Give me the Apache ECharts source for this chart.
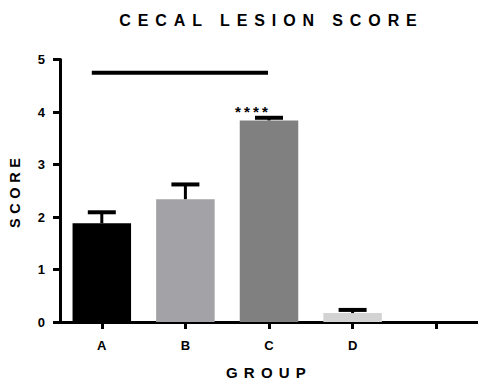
<!DOCTYPE html>
<html>
<head>
<meta charset="utf-8">
<script src="https://cdn.jsdelivr.net/npm/echarts@6/dist/echarts.min.js"></script>
<style>
html,body{margin:0;padding:0;background:#fff;}
#chart{width:478px;height:383px;}
#chart text[style*="16px"], #chart text[font-size="16px"], #chart text[font-size="16"]{letter-spacing:6.9px;}
#chart text[style*="15px"], #chart text[font-size="15px"], #chart text[font-size="15"]{letter-spacing:6.2px;}
#chart text[style*="14.5px"], #chart text[font-size="14.5px"], #chart text[font-size="14.5"]{letter-spacing:4.6px;}
#chart text[style*="15.2px"], #chart text[font-size="15.2px"], #chart text[font-size="15.2"]{letter-spacing:3.1px;}
</style>
</head>
<body>
<div id="chart"></div>
<script>
// ---- data ----
var categories = ['A', 'B', 'C', 'D', ''];
var means = [1.88, 2.34, 3.84, 0.17];
var errors = [0.21, 0.28, 0.05, 0.06];
var sigStars = ['', '', '****', ''];
var sigLineFrom = 'A';
var sigLineTo = 'C';
var sigLineY = 4.75;
var yMin = 0, yMax = 5, yInterval = 1;

// ---- styles ----
var barColors = ['#000000', '#a3a2a7', '#808080', '#d3d3d3'];
var FONT = "Liberation Sans, Arial, sans-serif";

var barData = means.map(function (v, i) {
  return { value: v, itemStyle: { color: barColors[i] } };
});
var errData = means.map(function (v, i) {
  return [i, v, v + errors[i]];
});

function renderErr(params, api) {
  var x = api.value(0);
  var lo = api.coord([x, api.value(1)]);
  var hi = api.coord([x, api.value(2)]);
  var stemW = 3, capW = 28, capH = 4;
  var children = [
    { type: 'rect', shape: { x: lo[0] - stemW / 2, y: hi[1], width: stemW, height: lo[1] - hi[1] }, style: { fill: '#000' } },
    { type: 'rect', shape: { x: hi[0] - capW / 2, y: hi[1] - capH / 2, width: capW, height: capH }, style: { fill: '#000' } }
  ];
  var stars = sigStars[params.dataIndex];
  if (stars) {
    children.push({
      type: 'text',
      style: {
        text: stars, x: hi[0] - 16, y: hi[1] + 1,
        align: 'center', verticalAlign: 'bottom',
        font: "bold 15.2px " + FONT, fill: '#000'
      }
    });
  }
  return { type: 'group', children: children };
}

function renderSig(params, api) {
  var a = api.coord([categories.indexOf(sigLineFrom), sigLineY]);
  var c = api.coord([categories.indexOf(sigLineTo), sigLineY]);
  return {
    type: 'rect',
    shape: { x: a[0] - 10, y: a[1] - 2, width: c[0] - a[0] + 9, height: 4 },
    style: { fill: '#000' }
  };
}

var chart = echarts.init(document.getElementById('chart'), null, { renderer: 'svg' });
chart.setOption({
  animation: false,
  backgroundColor: '#fff',
  title: {
    text: 'CECAL LESION SCORE',
    left: 271.5, top: 12, padding: 0,
    textAlign: 'center',
    textStyle: { fontFamily: FONT, fontWeight: 'bold', fontSize: 16, color: '#000' }
  },
  grid: { left: 60, right: 0, top: 59.5, bottom: 61, containLabel: false, outerBoundsMode: 'none' },
  xAxis: {
    type: 'category',
    data: categories,
    name: 'GROUP',
    nameLocation: 'middle',
    nameGap: 43,
    nameTextStyle: { fontFamily: FONT, fontWeight: 'bold', fontSize: 15, color: '#000' },
    axisLine: { show: true, lineStyle: { color: '#000', width: 3 } },
    axisTick: { show: true, inside: false, alignWithLabel: true, interval: 0, length: 7, lineStyle: { color: '#000', width: 3 } },
    axisLabel: { show: true, interval: 0, margin: 17, fontFamily: FONT, fontWeight: 'bold', fontSize: 13, color: '#000' },
    splitLine: { show: false }
  },
  yAxis: {
    type: 'value',
    min: yMin, max: yMax, interval: yInterval,
    name: 'SCORE',
    nameLocation: 'middle',
    nameRotate: 90,
    nameGap: 38,
    nameTextStyle: { fontFamily: FONT, fontWeight: 'bold', fontSize: 14.5, color: '#000' },
    axisLine: { show: true, lineStyle: { color: '#000', width: 3 } },
    axisTick: { show: true, inside: false, length: 7, lineStyle: { color: '#000', width: 3 } },
    axisLabel: { show: true, margin: 15, fontFamily: FONT, fontWeight: 'bold', fontSize: 13, color: '#000' },
    splitLine: { show: false }
  },
  series: [
    {
      type: 'bar',
      data: barData,
      barWidth: '70%',
      z: 2
    },
    {
      type: 'custom',
      data: errData,
      renderItem: renderErr,
      z: 5,
      silent: true
    },
    {
      type: 'custom',
      data: [[0, sigLineY]],
      renderItem: renderSig,
      z: 5,
      silent: true
    }
  ]
});
</script>
</body>
</html>
